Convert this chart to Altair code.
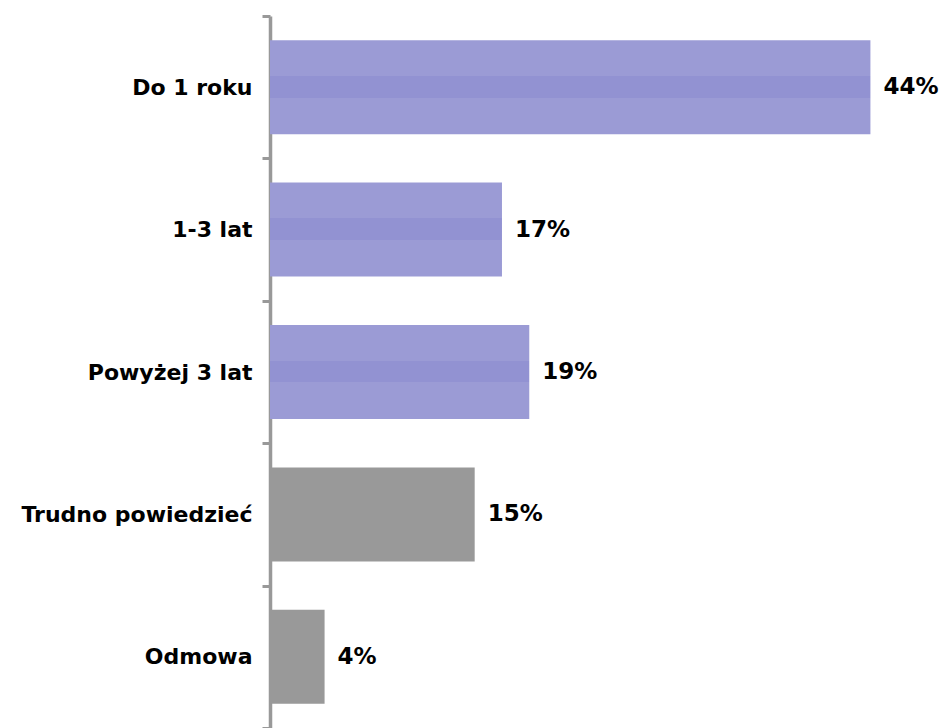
import altair as alt
import pandas as pd

categories = ["Do 1 roku", "1-3 lat", "Powyżej 3 lat", "Trudno powiedzieć", "Odmowa"]
values = [44, 17, 19, 15, 4]
groups = ["blue", "blue", "blue", "gray", "gray"]
labels = [f"{v}%" for v in values]

df = pd.DataFrame({"cat": categories, "val": values, "grp": groups, "lbl": labels})

y_enc = alt.Y(
    "cat:N",
    sort=categories,
    title=None,
    scale=alt.Scale(paddingInner=0, paddingOuter=0),
    axis=alt.Axis(
        tickBand="extent",
        domainColor="#999999",
        domainWidth=3.5,
        tickColor="#999999",
        tickWidth=3,
        tickSize=8,
        labelPadding=10,
        labelFont="DejaVu Sans",
        labelFontWeight="bold",
        labelFontSize=22,
        labelColor="#000000",
        labelLimit=400,
        grid=False,
    ),
)
x_enc = alt.X("val:Q", scale=alt.Scale(domain=[0, 48], nice=False), axis=None)

blue_grad = alt.LinearGradient(
    gradient="linear",
    x1=0, x2=0, y1=0, y2=1,
    stops=[
        alt.GradientStop(offset=0, color="#9b9bd5"),
        alt.GradientStop(offset=0.38, color="#9b9bd5"),
        alt.GradientStop(offset=0.38, color="#9292d2"),
        alt.GradientStop(offset=0.61, color="#9292d2"),
        alt.GradientStop(offset=0.61, color="#9b9bd5"),
        alt.GradientStop(offset=1, color="#9b9bd5"),
    ],
)

base = alt.Chart(df)
bar_h = {"band": 0.66}

blue_bars = base.transform_filter(alt.datum.grp == "blue").mark_bar(color=blue_grad, height=bar_h).encode(x=x_enc, y=y_enc)
gray_bars = base.transform_filter(alt.datum.grp == "gray").mark_bar(color="#999999", height=bar_h).encode(x=x_enc, y=y_enc)
text = base.mark_text(
    align="left", baseline="middle", dx=13,
    font="DejaVu Sans", fontWeight="bold", fontSize=23, color="#000000"
).encode(x=x_enc, y=y_enc, text="lbl:N")

chart = (
    alt.layer(blue_bars, gray_bars, text)
    .properties(
        width=655,
        height=712,
        autosize=alt.AutoSizeParams(type="none"),
        padding={"left": 262, "top": 8, "right": 15, "bottom": 0},
        background="#ffffff",
    )
    .configure_view(stroke=None)
)

chart.save("out.html", embed_options={"renderer": "svg", "actions": False})
